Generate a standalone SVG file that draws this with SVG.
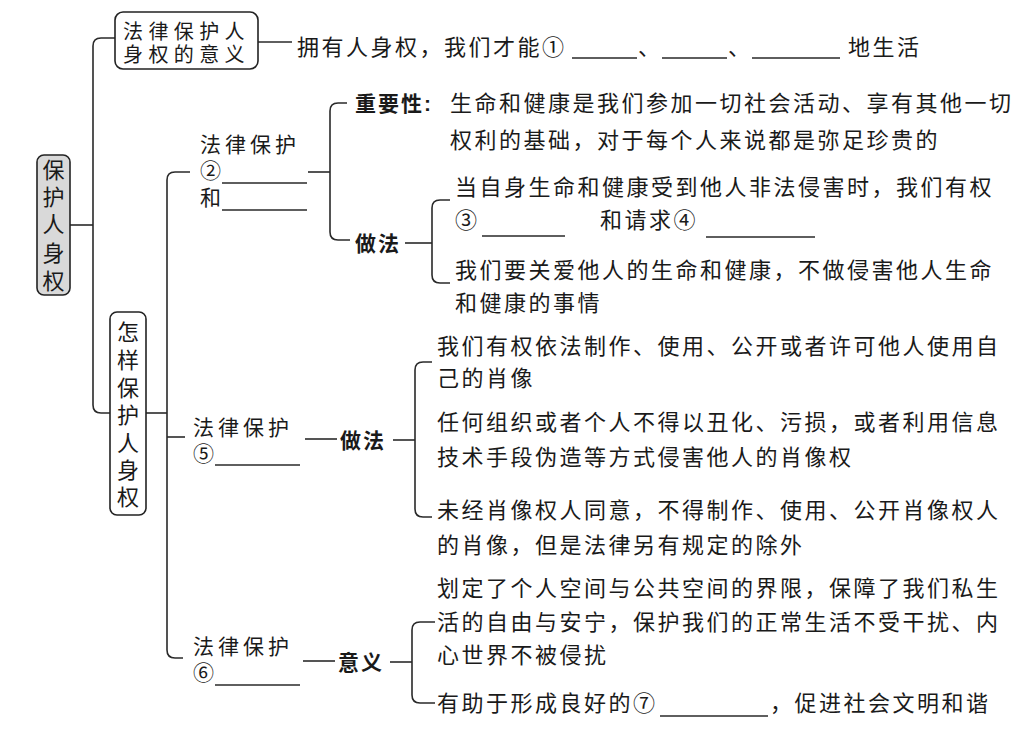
<svg xmlns="http://www.w3.org/2000/svg" width="1026" height="730" viewBox="0 0 1026 730">
<style>
.ln{fill:none;stroke:#2a2a2a;stroke-width:1.6}
.ul{fill:none;stroke:#2a2a2a;stroke-width:1.3}
.box{stroke:#222;stroke-width:1.6}
.t{font-family:"Liberation Sans","Noto Sans CJK SC",sans-serif;font-size:22px;fill:#1a1a1a;letter-spacing:2.5px}
.lbl{font-family:"Liberation Sans","Noto Sans CJK SC",sans-serif;font-size:21px;fill:#1a1a1a;letter-spacing:4px}
.bx{font-family:"Liberation Sans","Noto Sans CJK SC",sans-serif;font-size:20px;fill:#1a1a1a;letter-spacing:5.4px}
.b{font-family:"Liberation Sans","Noto Sans CJK SC",sans-serif;font-size:21px;font-weight:bold;fill:#1a1a1a;letter-spacing:2px}
.v{font-family:"Liberation Sans","Noto Sans CJK SC",sans-serif;font-size:22px;fill:#1a1a1a;text-anchor:middle}
</style>
<rect width="1026" height="730" fill="#ffffff"/>
<g id="connectors">
<path class="ln" d="M70,225 H93"/>
<path class="ln" d="M115,38 H101 Q93,38 93,46 V405 Q93,413 101,413 H110"/>
<path class="ln" d="M258,42 H292"/>
<path class="ln" d="M146,413 H167"/>
<path class="ln" d="M190,172 H175 Q167,172 167,180 V650 Q167,658 175,658 H183"/>
<path class="ln" d="M167,437 H185"/>
<path class="ln" d="M308,172 H330"/>
<path class="ln" d="M347,103 H338 Q330,103 330,111 V232 Q330,240 338,240 H350"/>
<path class="ln" d="M405,243 H432"/>
<path class="ln" d="M450,200 H440 Q432,200 432,208 V275 Q432,283 440,283 H450"/>
<path class="ln" d="M305,439 H337"/>
<path class="ln" d="M393,440 H415"/>
<path class="ln" d="M432,362 H423 Q415,362 415,370 V509 Q415,517 423,517 H432"/>
<path class="ln" d="M303,661 H335"/>
<path class="ln" d="M390,662 H412"/>
<path class="ln" d="M435,622 H420 Q412,622 412,630 V695 Q412,703 420,703 H435"/>
</g>
<g id="root">
<rect class="box" x="37" y="155" width="33" height="140" rx="7" fill="#d9d9d9"/>
<text class="v"><tspan x="53.5" y="178">保</tspan><tspan x="53.5" y="205">护</tspan><tspan x="53.5" y="232">人</tspan><tspan x="53.5" y="261">身</tspan><tspan x="53.5" y="289">权</tspan></text>
</g>
<g id="meaning">
<rect class="box" x="115" y="12" width="143" height="57" rx="8" fill="#ffffff"/>
<text class="bx"><tspan x="123" y="39">法律保护人</tspan><tspan x="123" y="62">身权的意义</tspan></text>
</g>
<g id="meaning-text">
<text class="t" x="297" y="55">拥有人身权，我们才能①</text>
<path class="ul" d="M572,58 H637 M662,58 H727 M752,58 H840"/>
<text class="t" x="638" y="55">、</text>
<text class="t" x="728" y="55">、</text>
<text class="t" x="848" y="55">地生活</text>
</g>
<g id="how">
<rect class="box" x="110" y="312" width="36" height="203" rx="7" fill="#ffffff"/>
<text class="v"><tspan x="128" y="340">怎</tspan><tspan x="128" y="368">样</tspan><tspan x="128" y="396">保</tspan><tspan x="128" y="423">护</tspan><tspan x="128" y="451">人</tspan><tspan x="128" y="478">身</tspan><tspan x="128" y="505">权</tspan></text>
</g>
<g id="node2">
<text class="lbl"><tspan x="200" y="152">法律保护</tspan><tspan x="200" y="178">②</tspan><tspan x="200" y="205">和</tspan></text>
<path class="ul" d="M222,183 H307 M222,210 H307"/>
</g>
<g id="importance">
<text class="b" x="355" y="111">重要性:</text>
<text class="t" x="450" y="111">生命和健康是我们参加一切社会活动、享有其他一切</text>
<text class="t" x="450" y="148">权利的基础，对于每个人来说都是弥足珍贵的</text>
</g>
<g id="practice1">
<text class="b" x="355" y="251">做法</text>
<text class="t" x="455" y="195">当自身生命和健康受到他人非法侵害时，我们有权</text>
<text class="t" x="455" y="228">③</text>
<path class="ul" d="M482,236 H565 M706,237 H815"/>
<text class="t" x="600" y="228">和请求④</text>
<text class="t" x="455" y="278">我们要关爱他人的生命和健康，不做侵害他人生命</text>
<text class="t" x="455" y="311">和健康的事情</text>
</g>
<g id="node5">
<text class="lbl"><tspan x="193" y="435">法律保护</tspan><tspan x="193" y="461">⑤</tspan></text>
<path class="ul" d="M215,465 H300"/>
</g>
<g id="practice2">
<text class="b" x="340" y="448">做法</text>
<text class="t" x="437" y="354">我们有权依法制作、使用、公开或者许可他人使用自</text>
<text class="t" x="437" y="386">己的肖像</text>
<text class="t" x="437" y="430">任何组织或者个人不得以丑化、污损，或者利用信息</text>
<text class="t" x="437" y="465">技术手段伪造等方式侵害他人的肖像权</text>
<text class="t" x="437" y="518">未经肖像权人同意，不得制作、使用、公开肖像权人</text>
<text class="t" x="437" y="553">的肖像，但是法律另有规定的除外</text>
</g>
<g id="node6">
<text class="lbl"><tspan x="193" y="654">法律保护</tspan><tspan x="193" y="680">⑥</tspan></text>
<path class="ul" d="M215,685 H300"/>
</g>
<g id="significance">
<text class="b" x="338" y="670">意义</text>
<text class="t" x="437" y="596">划定了个人空间与公共空间的界限，保障了我们私生</text>
<text class="t" x="437" y="630">活的自由与安宁，保护我们的正常生活不受干扰、内</text>
<text class="t" x="437" y="663">心世界不被侵扰</text>
<text class="t" x="437" y="711">有助于形成良好的⑦</text>
<path class="ul" d="M660,716 H768"/>
<text class="t" x="770" y="711">，促进社会文明和谐</text>
</g>
</svg>
